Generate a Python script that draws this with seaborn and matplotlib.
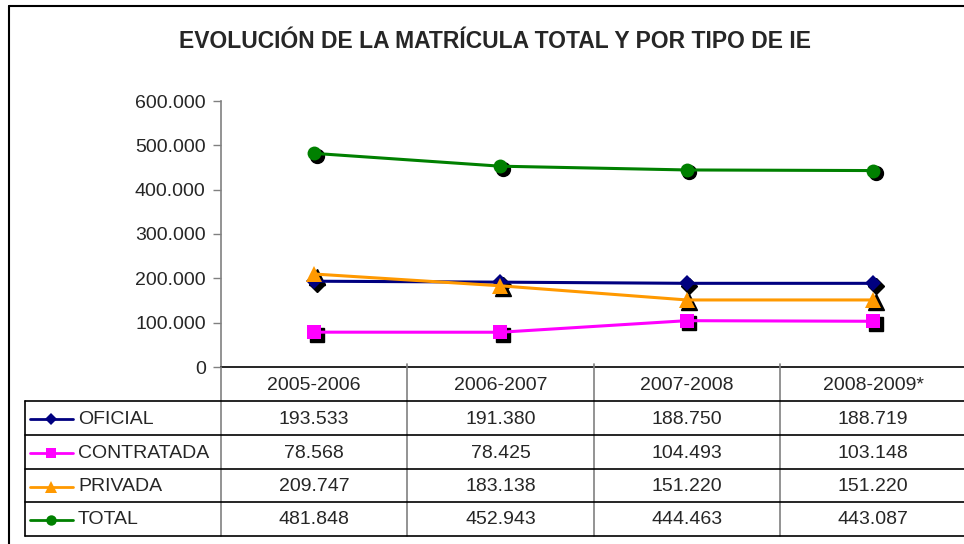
import matplotlib
matplotlib.use("Agg")
import matplotlib.pyplot as plt
import matplotlib.transforms as mtransforms
from matplotlib.ticker import FuncFormatter
import seaborn as sns
import pandas as pd

# ---- data ----
periods = ["2005-2006", "2006-2007", "2007-2008", "2008-2009*"]
series_names = ["OFICIAL", "CONTRATADA", "PRIVADA", "TOTAL"]
oficial = [193533, 191380, 188750, 188719]
contratada = [78568, 78425, 104493, 103148]
privada = [209747, 183138, 151220, 151220]
total = [481848, 452943, 444463, 443087]
y_ticks = [0, 100000, 200000, 300000, 400000, 500000, 600000]
title = "EVOLUCIÓN DE LA MATRÍCULA TOTAL Y POR TIPO DE IE"

values = {"OFICIAL": oficial, "CONTRATADA": contratada, "PRIVADA": privada, "TOTAL": total}
colors = {"OFICIAL": "#000080", "CONTRATADA": "#FF00FF", "PRIVADA": "#FF9900", "TOTAL": "#008000"}
markers = {"OFICIAL": "D", "CONTRATADA": "s", "PRIVADA": "^", "TOTAL": "o"}
msizes = {"OFICIAL": 8.5, "CONTRATADA": 9.5, "PRIVADA": 11, "TOTAL": 10}

rows = []
for name in series_names:
    for i, p in enumerate(periods):
        rows.append({"periodo": p, "x": i, "serie": name, "valor": values[name][i]})
df = pd.DataFrame(rows)

sns.set_style("white")
plt.rcParams["font.family"] = ["Liberation Sans", "DejaVu Sans"]

W, H = 964, 544
fig = plt.figure(figsize=(W / 100, H / 100), dpi=100)
FS = 14

def fmt(v):
    return f"{int(v):,}".replace(",", ".")

# main axes
col_w = 186.3
ax_left, ax_top, ax_bot = 221, 101, 367
ax = fig.add_axes([ax_left / W, 1 - ax_bot / H, 4 * col_w / W, (ax_bot - ax_top) / H])

for name in series_names:
    sub = df[df["serie"] == name]
    shadow = mtransforms.offset_copy(ax.transData, fig=fig, x=2.5, y=-2.5, units="dots")
    ax.plot(sub["x"], sub["valor"], linestyle="none", marker=markers[name],
            markersize=msizes[name], color="black", transform=shadow, zorder=2, clip_on=False)
    sns.lineplot(data=sub, x="x", y="valor", ax=ax, color=colors[name], linewidth=2.2,
                 marker=markers[name], markersize=msizes[name], markeredgewidth=0,
                 legend=False, zorder=3, clip_on=False)

ax.set_xlim(-0.5, 3.5)
ax.set_ylim(0, 600000)
ax.set_yticks(y_ticks)
ax.yaxis.set_major_formatter(FuncFormatter(lambda v, p: fmt(v)))
ax.set_xticks([])
ax.set_xlabel("")
ax.set_ylabel("")
ax.tick_params(axis="y", direction="out", length=6, width=1, color="#808080",
               labelsize=FS, pad=5, left=True)
for s in ["top", "right"]:
    ax.spines[s].set_visible(False)
ax.spines["left"].set_color("#808080")
ax.spines["left"].set_linewidth(1.2)
ax.spines["bottom"].set_color("#000000")
ax.spines["bottom"].set_linewidth(1.2)

# overlay for table, title and border
ov = fig.add_axes([0, 0, 1, 1])
ov.set_xlim(0, W)
ov.set_ylim(H, 0)
ov.axis("off")
ov.patch.set_alpha(0)

# outer border
ov.plot([9, 9], [6, H + 5], color="black", lw=1.5)
ov.plot([9, W + 5], [6, 6], color="black", lw=1.5)

ov.text(495, 42, title, ha="center", va="center", fontsize=16.5, fontweight="bold")

# table grid
row_y = [367, 401, 435, 469, 502, 536]
col_x = [ax_left + i * col_w for i in range(5)]
ov.plot([ax_left, ax_left], [367, 536], color="#808080", lw=1.2)
for cx in col_x[1:4]:
    ov.plot([cx, cx], [364, 536], color="#808080", lw=1.2)
ov.plot([25, 25], [401, 536], color="black", lw=1.2)
for ry in row_y[1:]:
    ov.plot([25, W + 5], [ry, ry], color="black", lw=1.2)

# header
for i, p in enumerate(periods):
    ov.text(ax_left + (i + 0.5) * col_w, (row_y[0] + row_y[1]) / 2 + 1, p,
            ha="center", va="center", fontsize=FS)

# rows
for r, name in enumerate(series_names):
    yc = (row_y[r + 1] + row_y[r + 2]) / 2 + 1
    ov.plot([30, 73], [yc, yc], color=colors[name], lw=2.0)
    ov.plot([51], [yc], marker=markers[name], color=colors[name],
            markersize=msizes[name] * 0.75, markeredgewidth=0)
    ov.text(78, yc, name, ha="left", va="center", fontsize=FS)
    for i, v in enumerate(values[name]):
        ov.text(ax_left + (i + 0.5) * col_w, yc, fmt(v), ha="center", va="center", fontsize=FS)

fig.savefig("out.png", dpi=100)
